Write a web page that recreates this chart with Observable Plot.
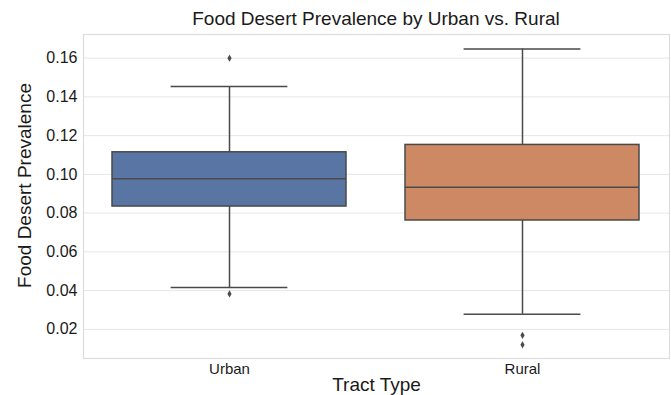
<!DOCTYPE html>
<html>
<head>
<meta charset="utf-8">
<script src="https://cdn.jsdelivr.net/npm/d3@7"></script>
<script src="https://cdn.jsdelivr.net/npm/@observablehq/plot@0.6"></script>
<style>
  body { margin: 0; background: #fff; font-family: "Liberation Sans", Arial, sans-serif; }
  #title { height: 33px; width: 586px; margin-left: 83px; text-align: center; font-size: 19px; line-height: 38px; color: #1a1a1a; white-space: nowrap; }
  #chart svg { display: block; }
</style>
</head>
<body>
<div id="title">Food Desert Prevalence by Urban vs. Rural</div>
<div id="chart"></div>
<script>
const categories = ["Urban", "Rural"];
const whiskerLow = [0.0416, 0.0278];
const q1 = [0.0834, 0.0762];
const median = [0.0978, 0.0934];
const q3 = [0.1114, 0.1152];
const whiskerHigh = [0.1453, 0.1647];
const outliers = [[0.160, 0.0383], [0.0169, 0.0120]];
const colors = ["#5875a4", "#cc8963"];
const yTicks = [0.02, 0.04, 0.06, 0.08, 0.10, 0.12, 0.14, 0.16];

const stats = categories.map((c, i) => ({
  type: c, lo: whiskerLow[i], q1: q1[i], med: median[i], q3: q3[i], hi: whiskerHigh[i]
}));
const outlierRows = categories.flatMap((c, i) => outliers[i].map(v => ({type: c, value: v})));

const thinDiamond = {
  draw(ctx, size) {
    const r = Math.sqrt(size / Math.PI);
    const h = r * 1.4, w = r * 0.8;
    ctx.moveTo(0, -h); ctx.lineTo(w, 0); ctx.lineTo(0, h); ctx.lineTo(-w, 0); ctx.closePath();
  }
};

const lineColor = "#4a4a4a";
const chart = Plot.plot({
  width: 671,
  height: 362,
  marginLeft: 83,
  marginRight: 2,
  marginTop: 1,
  marginBottom: 37,
  style: {fontFamily: "Liberation Sans, Arial, sans-serif", fontSize: "16px", color: "#1a1a1a", background: "#fff"},
  x: {domain: categories, paddingInner: 0.2, paddingOuter: 0.1, label: null},
  y: {domain: [0.00496, 0.1722], label: null},
  color: {domain: categories, range: colors},
  marks: [
    Plot.gridY(yTicks, {stroke: "#e6e6e6", strokeOpacity: 1, strokeWidth: 1}),
    Plot.frame({stroke: "#dddddd", strokeWidth: 1.2}),
    Plot.axisY({ticks: yTicks, tickFormat: ".2f", tickSize: 0, tickPadding: 6, fontSize: 16, label: null}),
    Plot.axisX({tickSize: 0, tickPadding: 5, fontSize: 15, label: null}),
    Plot.ruleX(stats, {x: "type", y1: "lo", y2: "q1", stroke: lineColor, strokeWidth: 1.5}),
    Plot.ruleX(stats, {x: "type", y1: "q3", y2: "hi", stroke: lineColor, strokeWidth: 1.5}),
    Plot.tickY(stats, {x: "type", y: "lo", stroke: lineColor, strokeWidth: 1.5, insetLeft: 58.6, insetRight: 58.6}),
    Plot.tickY(stats, {x: "type", y: "hi", stroke: lineColor, strokeWidth: 1.5, insetLeft: 58.6, insetRight: 58.6}),
    Plot.barY(stats, {x: "type", y1: "q1", y2: "q3", fill: "type", stroke: lineColor, strokeWidth: 1.5}),
    Plot.tickY(stats, {x: "type", y: "med", stroke: lineColor, strokeWidth: 1.5}),
    Plot.dot(outlierRows, {x: "type", y: "value", symbol: thinDiamond, r: 2.6, fill: lineColor, stroke: null}),
    Plot.text(["Tract Type"], {text: d => d, frameAnchor: "bottom", dy: 26, lineAnchor: "middle", fontSize: 19, fill: "#1a1a1a"}),
    Plot.text(["Food Desert Prevalence"], {text: d => d, frameAnchor: "left", rotate: -90, dx: -59, dy: -11, textAnchor: "middle", lineAnchor: "middle", fontSize: 19, fill: "#1a1a1a"})
  ]
});
document.getElementById("chart").appendChild(chart);
</script>
</body>
</html>
